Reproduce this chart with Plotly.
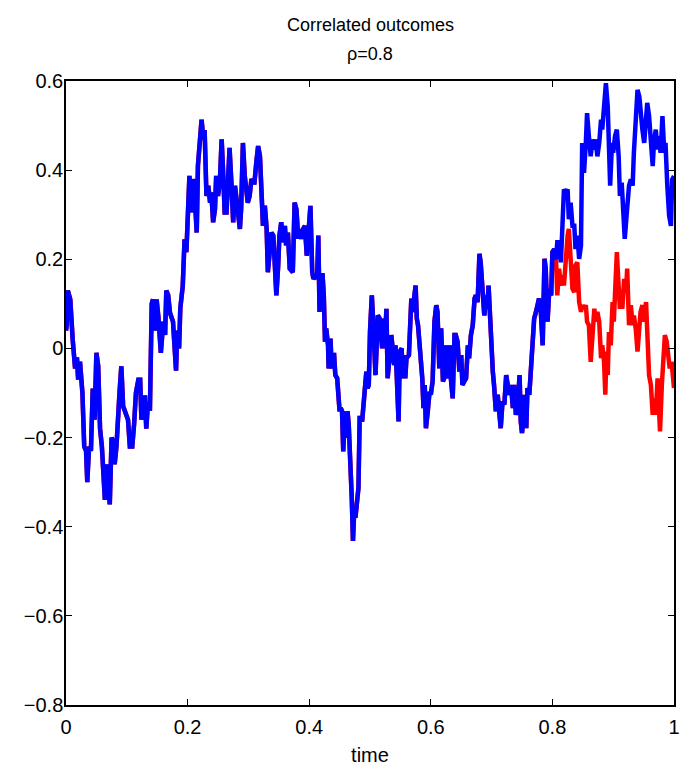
import plotly.graph_objects as go

# shared path (blue, and red underneath until they diverge)
time = [0.000, 0.001, 0.003, 0.007, 0.011, 0.015, 0.018, 0.020, 0.023, 0.027, 0.030, 0.033, 0.035, 0.038, 0.041,
        0.044, 0.047, 0.050, 0.053, 0.056, 0.059, 0.061, 0.064, 0.067, 0.070, 0.072, 0.075, 0.078, 0.080, 0.083,
        0.088, 0.091, 0.094, 0.099, 0.102, 0.105, 0.109, 0.112, 0.115, 0.119, 0.122, 0.124, 0.127, 0.130, 0.132,
        0.135, 0.138, 0.141, 0.143, 0.146, 0.149, 0.152, 0.156, 0.160, 0.163, 0.165, 0.168, 0.171, 0.176, 0.181,
        0.183, 0.186, 0.188, 0.192, 0.195, 0.198, 0.201, 0.203, 0.206, 0.209, 0.212, 0.215, 0.217, 0.220, 0.223,
        0.226, 0.228, 0.231, 0.234, 0.237, 0.239, 0.242, 0.245, 0.247, 0.250, 0.253, 0.256, 0.258, 0.261, 0.264,
        0.267, 0.269, 0.272, 0.275, 0.278, 0.280, 0.283, 0.286, 0.288, 0.291, 0.294, 0.297, 0.299, 0.302, 0.305,
        0.308, 0.310, 0.313, 0.316, 0.319, 0.321, 0.324, 0.327, 0.330, 0.332, 0.335, 0.338, 0.341, 0.343, 0.346,
        0.349, 0.351, 0.354, 0.357, 0.360, 0.362, 0.365, 0.368, 0.373, 0.376, 0.379, 0.382, 0.384, 0.387, 0.390,
        0.393, 0.396, 0.400, 0.402, 0.405, 0.407, 0.411, 0.413, 0.415, 0.417, 0.419, 0.422, 0.424, 0.426, 0.428,
        0.431, 0.432, 0.435, 0.437, 0.439, 0.441, 0.443, 0.446, 0.448, 0.450, 0.452, 0.454, 0.456, 0.459, 0.461,
        0.463, 0.465, 0.467, 0.470, 0.472, 0.474, 0.476, 0.478, 0.481, 0.483, 0.485, 0.487, 0.489, 0.492, 0.494,
        0.496, 0.498, 0.500, 0.503, 0.505, 0.507, 0.509, 0.511, 0.513, 0.516, 0.518, 0.520, 0.522, 0.524, 0.527,
        0.529, 0.531, 0.533, 0.535, 0.537, 0.540, 0.542, 0.544, 0.546, 0.547, 0.549, 0.552, 0.554, 0.556, 0.558,
        0.560, 0.564, 0.566, 0.568, 0.570, 0.573, 0.575, 0.577, 0.579, 0.586, 0.588, 0.590, 0.592, 0.595, 0.598,
        0.600, 0.603, 0.606, 0.609, 0.611, 0.614, 0.617, 0.620, 0.622, 0.625, 0.628, 0.631, 0.633, 0.636, 0.639,
        0.641, 0.644, 0.647, 0.650, 0.652, 0.655, 0.658, 0.661, 0.663, 0.666, 0.669, 0.672, 0.674, 0.677, 0.680,
        0.682, 0.685, 0.688, 0.691, 0.693, 0.695, 0.697, 0.699, 0.702, 0.704, 0.707, 0.710, 0.713, 0.715, 0.718,
        0.721, 0.724, 0.726, 0.729, 0.732, 0.735, 0.737, 0.740, 0.743, 0.746, 0.748, 0.750, 0.752, 0.754, 0.757,
        0.759, 0.762, 0.765, 0.767, 0.770, 0.773, 0.776, 0.778, 0.781, 0.784, 0.787, 0.789, 0.792, 0.795, 0.798,
        0.800, 0.803, 0.806]
blue_shared = [0.04, 0.05, 0.13, 0.11, 0.02, -0.045, -0.02, -0.07, -0.03, -0.10, -0.22, -0.23, -0.30, -0.22, -0.23,
               -0.09, -0.16, -0.01, -0.04, -0.18, -0.22, -0.29, -0.34, -0.26, -0.33, -0.35, -0.20, -0.21, -0.26, -0.22,
               -0.10, -0.04, -0.13, -0.15, -0.16, -0.22, -0.22, -0.17, -0.10, -0.07, -0.07, -0.16, -0.11, -0.11, -0.18,
               -0.12, -0.14, 0.10, 0.11, 0.04, 0.11, 0.07, -0.01, 0.06, 0.03, 0.13, 0.12, 0.08, 0.06, -0.05,
               0.04, 0.00, 0.09, 0.14, 0.245, 0.216, 0.298, 0.387, 0.305, 0.38, 0.335, 0.26, 0.41, 0.484, 0.513,
               0.469, 0.49, 0.342, 0.365, 0.327, 0.35, 0.283, 0.312, 0.387, 0.342, 0.372, 0.469, 0.41, 0.305, 0.305,
               0.372, 0.45, 0.372, 0.283, 0.365, 0.335, 0.298, 0.268, 0.312, 0.461, 0.387, 0.35, 0.327, 0.342, 0.38,
               0.372, 0.372, 0.417, 0.454, 0.431, 0.357, 0.275, 0.32, 0.268, 0.171, 0.223, 0.26, 0.253, 0.179, 0.119,
               0.186, 0.253, 0.283, 0.238, 0.275, 0.231, 0.26, 0.179, 0.171, 0.327, 0.312, 0.246, 0.268, 0.246, 0.268,
               0.275, 0.208, 0.268, 0.32, 0.171, 0.156, 0.164, 0.156, 0.253, 0.082, 0.164, 0.164, 0.119, 0.015, 0.045,
               0.007, -0.045, 0.022, -0.045, -0.015, -0.015, -0.06, -0.067, -0.112, -0.141, -0.134, -0.141, -0.231, -0.141, -0.201,
               -0.141, -0.171, -0.223, -0.335, -0.432, -0.365, -0.38, -0.35, -0.313, -0.156, -0.156, -0.164, -0.134, -0.089, -0.052,
               -0.089, -0.082, 0.037, 0.119, 0.067, 0.007, -0.06, 0.007, 0.074, 0.067, 0.037, 0.0, 0.067, 0.0, 0.089,
               -0.067, -0.037, -0.022, 0.03, 0.0, -0.037, 0.007, -0.067, -0.112, -0.164, -0.007, 0.0, -0.067, -0.015, -0.067,
               -0.022, -0.015, 0.037, 0.112, 0.082, 0.112, 0.141, 0.067, 0.052, -0.067, -0.134, -0.082, -0.179, -0.141, -0.097,
               -0.104, -0.074, 0.06, 0.097, 0.082, -0.045, 0.045, -0.074, -0.067, 0.007, -0.067, 0.007, -0.067, -0.112, 0.03,
               0.03, 0.015, -0.052, -0.015, -0.082, -0.074, -0.067, 0.007, -0.022, 0.03, 0.052, 0.112, 0.119, 0.104, 0.212,
               0.193, 0.119, 0.074, 0.119, 0.089, 0.141, 0.082, -0.007, -0.052, -0.082, -0.141, -0.104, -0.156, -0.179, -0.119,
               -0.126, -0.06, -0.074, -0.104, -0.082, -0.134, -0.082, -0.149, -0.126, -0.06, -0.164, -0.19, -0.164, -0.104, -0.179,
               -0.089, -0.104, -0.052, 0.007, 0.067, 0.082, 0.104, 0.112, 0.082, 0.007, 0.201, 0.179, 0.06, 0.134, 0.119,
               0.216, 0.223, 0.20]

# blue after divergence
blue_time = [0.808, 0.811, 0.814, 0.817, 0.819, 0.822, 0.825, 0.827, 0.830, 0.833, 0.836, 0.838, 0.841, 0.844, 0.847,
             0.849, 0.852, 0.855, 0.857, 0.860, 0.863, 0.866, 0.869, 0.871, 0.874, 0.877, 0.880, 0.882, 0.885, 0.888,
             0.891, 0.893, 0.895, 0.898, 0.900, 0.903, 0.906, 0.909, 0.911, 0.914, 0.917, 0.919, 0.922, 0.924, 0.926,
             0.929, 0.932, 0.934, 0.937, 0.940, 0.943, 0.945, 0.948, 0.951, 0.954, 0.956, 0.959, 0.962, 0.965, 0.967,
             0.970, 0.973, 0.975, 0.978, 0.981, 0.984, 0.986, 0.989, 0.992, 0.995, 0.997, 1.000]
blue_tail = [0.238, 0.238, 0.193, 0.268, 0.357, 0.350, 0.357, 0.29, 0.327, 0.275, 0.275, 0.223, 0.253, 0.201, 0.231,
             0.461, 0.394, 0.461, 0.528, 0.476, 0.431, 0.469, 0.446, 0.469, 0.431, 0.461, 0.513, 0.491, 0.551, 0.595,
             0.543, 0.409, 0.365, 0.461, 0.439, 0.476, 0.491, 0.431, 0.342, 0.372, 0.313, 0.246, 0.298, 0.327, 0.365,
             0.379, 0.365, 0.439, 0.506, 0.580, 0.565, 0.528, 0.491, 0.461, 0.506, 0.551, 0.521, 0.476, 0.409, 0.461,
             0.491, 0.446, 0.476, 0.439, 0.521, 0.439, 0.461, 0.365, 0.298, 0.275, 0.379, 0.387]

# red after divergence
red_time = [0.808, 0.811, 0.814, 0.817, 0.819, 0.822, 0.825, 0.827, 0.830, 0.833, 0.836, 0.838, 0.841, 0.844, 0.847,
            0.849, 0.852, 0.855, 0.857, 0.860, 0.863, 0.866, 0.869, 0.871, 0.874, 0.877, 0.880, 0.882, 0.885, 0.887,
            0.889, 0.891, 0.893, 0.896, 0.899, 0.901, 0.904, 0.906, 0.908, 0.911, 0.913, 0.915, 0.918, 0.921, 0.923,
            0.926, 0.929, 0.932, 0.934, 0.937, 0.940, 0.943, 0.945, 0.948, 0.951, 0.954, 0.956, 0.959, 0.962, 0.965,
            0.967, 0.970, 0.973, 0.975, 0.977, 0.980, 0.983, 0.985, 0.988, 0.991, 0.993, 0.996, 1.000]
red_tail = [0.119, 0.179, 0.141, 0.164, 0.141, 0.208, 0.253, 0.268, 0.179, 0.134, 0.126, 0.186, 0.193, 0.104, 0.082,
            0.097, 0.089, 0.097, 0.06, 0.052, -0.03, 0.045, 0.089, 0.06, 0.082, 0.06, -0.022, 0.007, -0.03, -0.104,
            -0.007, -0.06, 0.037, 0.007, 0.104, 0.06, 0.141, 0.216, 0.164, 0.089, 0.119, 0.089, 0.156, 0.126, 0.179,
            0.052, 0.097, 0.052, 0.074, 0.045, -0.007, 0.045, 0.082, 0.097, 0.06, 0.104, 0.007, -0.06, -0.082, -0.149,
            -0.112, -0.149, -0.067, -0.119, -0.186, -0.082, 0.0, 0.03, 0.015, -0.015, -0.045, -0.03, -0.089]

x_ticks = [0, 0.2, 0.4, 0.6, 0.8, 1]
x_tick_labels = ["0", "0.2", "0.4", "0.6", "0.8", "1"]
y_ticks = [-0.8, -0.6, -0.4, -0.2, 0, 0.2, 0.4, 0.6]
y_tick_labels = ["\u22120.8", "\u22120.6", "\u22120.4", "\u22120.2", "0", "0.2", "0.4", "0.6"]
title_lines = ["Correlated outcomes", "\u03c1=0.8"]

FONT = "Liberation Sans, Arial, sans-serif"
FS = 20

fig = go.Figure()
fig.add_trace(go.Scatter(x=time + red_time, y=blue_shared + red_tail, mode="lines",
                         line=dict(color="#ff0000", width=4.5), showlegend=False))
fig.add_trace(go.Scatter(x=time + blue_time, y=blue_shared + blue_tail, mode="lines",
                         line=dict(color="#0000ff", width=4.5), showlegend=False))

axis_common = dict(showline=True, linecolor="black", linewidth=1.5, mirror="ticks",
                   ticks="inside", ticklen=6, tickwidth=1, tickcolor="black",
                   showgrid=False, zeroline=False,
                   tickfont=dict(family=FONT, size=FS, color="black"))

fig.update_xaxes(range=[0, 1], tickvals=x_ticks, ticktext=x_tick_labels, ticklabelstandoff=3,
                 title=dict(text="time", font=dict(family=FONT, size=FS, color="black"), standoff=12),
                 **axis_common)
fig.update_yaxes(range=[-0.8, 0.6], tickvals=y_ticks, ticktext=y_tick_labels, ticklabelstandoff=-3,
                 **axis_common)

fig.add_annotation(text=title_lines[0], xref="paper", yref="paper", x=0.5, y=1, xanchor="center",
                   yanchor="middle", yshift=56, showarrow=False,
                   font=dict(family=FONT, size=18, color="black"))
fig.add_annotation(text=title_lines[1], xref="paper", yref="paper", x=0.5, y=1, xanchor="center",
                   yanchor="middle", yshift=27, showarrow=False,
                   font=dict(family=FONT, size=18, color="black"))

fig.update_layout(
    width=688, height=766,
    margin=dict(l=66, r=14, t=81, b=61, autoexpand=False),
    paper_bgcolor="white", plot_bgcolor="white",
)

fig.write_html("out.html", config={"displayModeBar": False},
               post_script="document.body.style.margin='0';")
